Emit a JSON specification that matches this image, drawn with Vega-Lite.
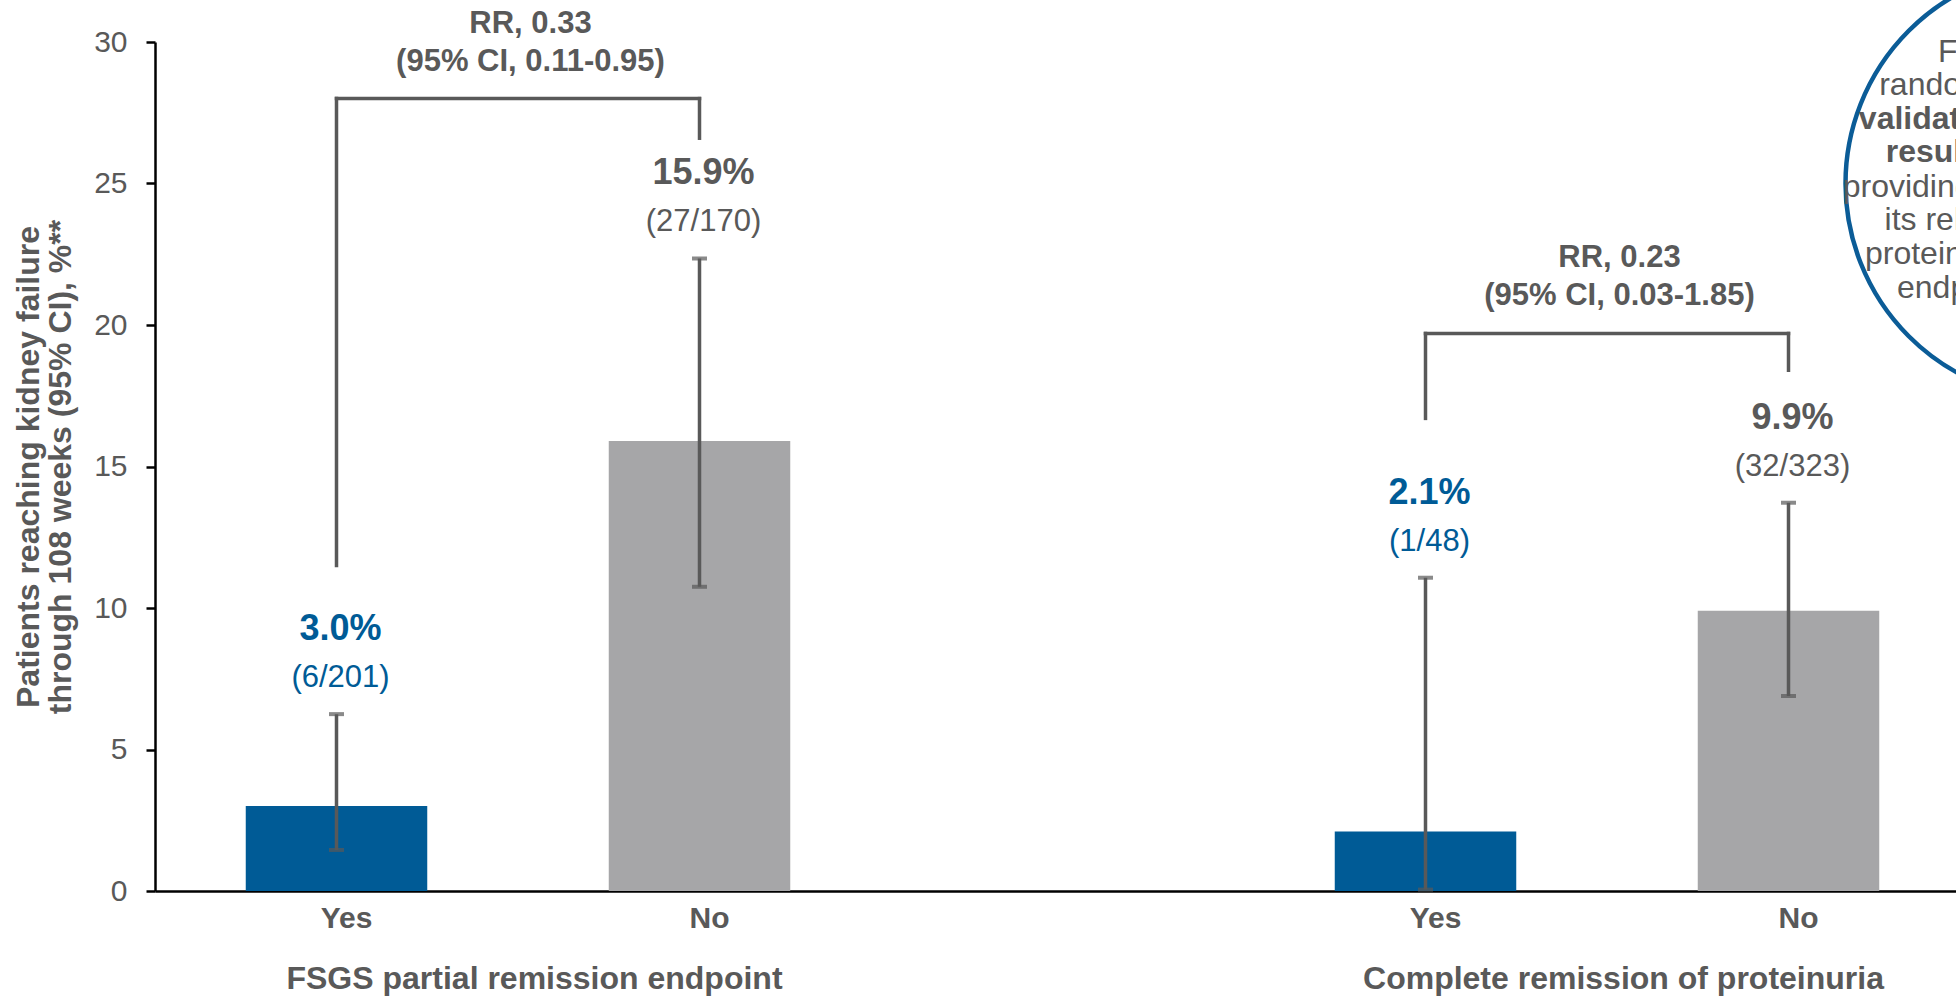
{
  "$schema": "https://vega.github.io/schema/vega-lite/v6.json",
  "autosize": {"type": "none"},
  "padding": {"left": 155, "top": 42, "right": 0, "bottom": 105},
  "width": 1801,
  "height": 849,
  "background": "white",
  "config": {"font": "Liberation Sans", "view": {"stroke": null}},
  "datasets": {
    "bars": [
      {"key": "FSGS|Yes", "remission": "Yes", "pct": 3.0, "lo": 1.45, "hi": 6.25, "pctLabel": "3.0%", "nLabel": "(6/201)"},
      {"key": "FSGS|No", "remission": "No", "pct": 15.9, "lo": 10.75, "hi": 22.35, "pctLabel": "15.9%", "nLabel": "(27/170)"},
      {"key": "CR|Yes", "remission": "Yes", "pct": 2.1, "lo": 0.05, "hi": 11.07, "pctLabel": "2.1%", "nLabel": "(1/48)"},
      {"key": "CR|No", "remission": "No", "pct": 9.9, "lo": 6.89, "hi": 13.72, "pctLabel": "9.9%", "nLabel": "(32/323)"}
    ],
    "brackets": [
      {"left": "FSGS|Yes", "right": "FSGS|No", "top": 28.0, "leftEnd": 11.5, "rightEnd": 26.6, "rr": "RR, 0.33", "ci": "(95% CI, 0.11-0.95)"},
      {"left": "CR|Yes", "right": "CR|No", "top": 19.7, "leftEnd": 16.7, "rightEnd": 18.4, "rr": "RR, 0.23", "ci": "(95% CI, 0.03-1.85)"}
    ],
    "groups": [
      {"first": "FSGS|Yes", "label": "FSGS partial remission endpoint"},
      {"first": "CR|Yes", "label": "Complete remission of proteinuria"}
    ],
    "note": [
      {"anchor": "CR|No", "level": 25.0,
       "partA": ["Further data from", "randomized DUPLEX trial"],
       "partB": ["validation of the FPRE and", "results from this study,"],
       "partC": ["providing additional support for", "its relevance as a clinical", "proteinuria-based surrogate", "endpoint in FSGS trials"]}
    ]
  },
  "layer": [
    {
      "data": {"name": "bars"},
      "mark": {"type": "bar"},
      "encoding": {
        "x": {"field": "key", "type": "nominal", "sort": null,
          "scale": {"domain": ["FSGS|Yes", "FSGS|No", "gap", "CR|Yes", "CR|No"], "range": [0, 1815], "paddingInner": 0.5, "paddingOuter": 0.25},
          "axis": {"title": null, "labelExpr": "datum.value == 'gap' ? '' : split(datum.value, '|')[1]", "labelAngle": 0, "labelFontSize": 30, "labelFontWeight": "bold", "labelColor": "#595959", "labelPadding": 12, "labelOffset": 10, "ticks": false, "tickSize": 0, "domainColor": "#000000", "domainWidth": 2.5, "grid": false}},
        "y": {"field": "pct", "type": "quantitative",
          "scale": {"domain": [0, 30], "nice": false},
          "axis": {"title": ["Patients reaching kidney failure", "through 108 weeks (95% CI), %**"], "titleFontSize": 32, "titleFontWeight": "bold", "titleColor": "#595959", "titlePadding": 16, "titleLineHeight": 32, "values": [0, 5, 10, 15, 20, 25, 30], "labelFontSize": 30, "labelColor": "#595959", "labelPadding": 19, "tickSize": 9, "tickColor": "#000000", "tickWidth": 2.5, "domainColor": "#000000", "domainWidth": 2.5, "grid": false}},
        "color": {"condition": {"test": "datum.remission === 'Yes'", "value": "#005B96"}, "value": "#A6A6A8"}
      }
    },
    {
      "data": {"name": "bars"},
      "mark": {"type": "rule", "color": "#595959", "strokeWidth": 3.5},
      "encoding": {
        "x": {"field": "key", "type": "nominal"},
        "y": {"field": "lo", "type": "quantitative"},
        "y2": {"field": "hi"}
      }
    },
    {
      "data": {"name": "bars"},
      "mark": {"type": "tick", "color": "#595959", "size": 15, "thickness": 4},
      "encoding": {
        "x": {"field": "key", "type": "nominal"},
        "y": {"field": "hi", "type": "quantitative"}
      }
    },
    {
      "data": {"name": "bars"},
      "mark": {"type": "tick", "color": "#595959", "size": 15, "thickness": 4},
      "encoding": {
        "x": {"field": "key", "type": "nominal"},
        "y": {"field": "lo", "type": "quantitative"}
      }
    },
    {
      "data": {"name": "bars"},
      "mark": {"type": "text", "fontSize": 36, "fontWeight": "bold", "baseline": "alphabetic", "align": "center", "dy": -74, "dx": 4},
      "encoding": {
        "x": {"field": "key", "type": "nominal"},
        "y": {"field": "hi", "type": "quantitative"},
        "text": {"field": "pctLabel"},
        "color": {"condition": {"test": "datum.remission === 'Yes'", "value": "#005B96"}, "value": "#595959"}
      }
    },
    {
      "data": {"name": "bars"},
      "mark": {"type": "text", "fontSize": 31, "baseline": "alphabetic", "align": "center", "dy": -27, "dx": 4},
      "encoding": {
        "x": {"field": "key", "type": "nominal"},
        "y": {"field": "hi", "type": "quantitative"},
        "text": {"field": "nLabel"},
        "color": {"condition": {"test": "datum.remission === 'Yes'", "value": "#005B96"}, "value": "#595959"}
      }
    },
    {
      "data": {"name": "brackets"},
      "mark": {"type": "rule", "color": "#595959", "strokeWidth": 3.5, "strokeCap": "square"},
      "encoding": {
        "x": {"field": "left", "type": "nominal"},
        "x2": {"field": "right"},
        "y": {"field": "top", "type": "quantitative"}
      }
    },
    {
      "data": {"name": "brackets"},
      "mark": {"type": "rule", "color": "#595959", "strokeWidth": 3.5, "strokeCap": "square"},
      "encoding": {
        "x": {"field": "left", "type": "nominal"},
        "y": {"field": "top", "type": "quantitative"},
        "y2": {"field": "leftEnd"}
      }
    },
    {
      "data": {"name": "brackets"},
      "mark": {"type": "rule", "color": "#595959", "strokeWidth": 3.5, "strokeCap": "square"},
      "encoding": {
        "x": {"field": "right", "type": "nominal"},
        "y": {"field": "top", "type": "quantitative"},
        "y2": {"field": "rightEnd"}
      }
    },
    {
      "data": {"name": "brackets"},
      "mark": {"type": "text", "fontSize": 31, "fontWeight": "bold", "color": "#595959", "baseline": "alphabetic", "align": "center", "dx": 194, "dy": -66},
      "encoding": {
        "x": {"field": "left", "type": "nominal"},
        "y": {"field": "top", "type": "quantitative"},
        "text": {"field": "rr"}
      }
    },
    {
      "data": {"name": "brackets"},
      "mark": {"type": "text", "fontSize": 31, "fontWeight": "bold", "color": "#595959", "baseline": "alphabetic", "align": "center", "dx": 194, "dy": -28},
      "encoding": {
        "x": {"field": "left", "type": "nominal"},
        "y": {"field": "top", "type": "quantitative"},
        "text": {"field": "ci"}
      }
    },
    {
      "data": {"name": "groups"},
      "mark": {"type": "text", "fontSize": 32, "fontWeight": "bold", "color": "#595959", "baseline": "alphabetic", "align": "center", "dx": 198, "dy": 98},
      "encoding": {
        "x": {"field": "first", "type": "nominal"},
        "y": {"datum": 0, "type": "quantitative"},
        "text": {"field": "label"}
      }
    },
    {
      "data": {"name": "note"},
      "mark": {"type": "point", "shape": "circle", "filled": false, "stroke": "#0B5C97", "strokeWidth": 4.5, "size": 186624, "xOffset": 273, "opacity": 1},
      "encoding": {
        "x": {"field": "anchor", "type": "nominal"},
        "y": {"field": "level", "type": "quantitative"}
      }
    },
    {
      "data": {"name": "note"},
      "mark": {"type": "text", "fontSize": 32, "color": "#595959", "baseline": "middle", "align": "center", "lineHeight": 33.7, "xOffset": 273, "yOffset": -132},
      "encoding": {
        "x": {"field": "anchor", "type": "nominal"},
        "y": {"field": "level", "type": "quantitative"},
        "text": {"field": "partA"}
      }
    },
    {
      "data": {"name": "note"},
      "mark": {"type": "text", "fontSize": 32, "fontWeight": "bold", "color": "#595959", "baseline": "middle", "align": "center", "lineHeight": 33.7, "xOffset": 273, "yOffset": -65},
      "encoding": {
        "x": {"field": "anchor", "type": "nominal"},
        "y": {"field": "level", "type": "quantitative"},
        "text": {"field": "partB"}
      }
    },
    {
      "data": {"name": "note"},
      "mark": {"type": "text", "fontSize": 32, "color": "#595959", "baseline": "middle", "align": "center", "lineHeight": 33.7, "xOffset": 273, "yOffset": 3},
      "encoding": {
        "x": {"field": "anchor", "type": "nominal"},
        "y": {"field": "level", "type": "quantitative"},
        "text": {"field": "partC"}
      }
    }
  ]
}
